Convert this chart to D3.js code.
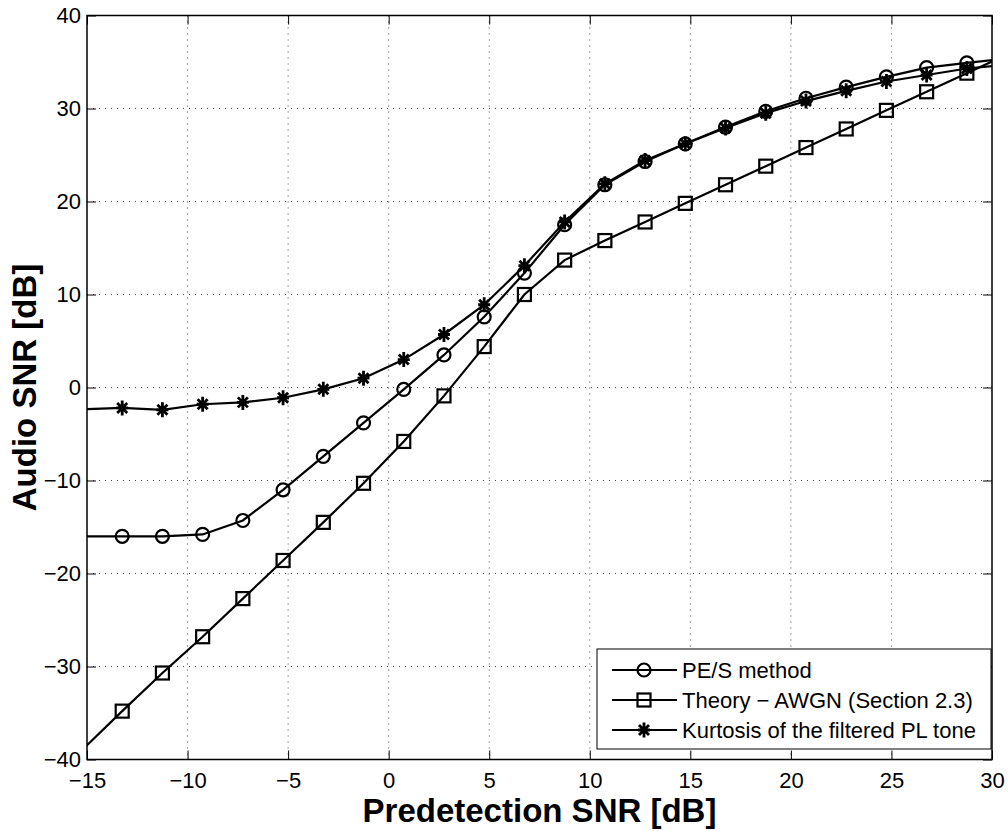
<!DOCTYPE html>
<html>
<head>
<meta charset="utf-8">
<title>Audio SNR vs predetection SNR</title>
<script src="https://cdn.jsdelivr.net/npm/d3@7"></script>
<style>
  body { margin: 0; background: #fff; }
  text { font-family: "Liberation Sans", Arial, sans-serif; }
</style>
</head>
<body>
<script>
// predetection SNR [dB] of the simulated points (first and last lie just outside the axes)
var snrIn = [-15.25, -13.25, -11.25, -9.25, -7.25, -5.25, -3.25, -1.25, 0.75, 2.75, 4.75, 6.75,
             8.75, 10.75, 12.75, 14.75, 16.75, 18.75, 20.75, 22.75, 24.75, 26.75, 28.75, 30.75]

var pesMethod = [-16.0, -16.0, -16.0, -15.8, -14.3, -11.0, -7.4, -3.8, -0.2, 3.5, 7.6, 12.3,
                 17.5, 21.8, 24.3, 26.2, 28.0, 29.7, 31.1, 32.3, 33.4, 34.4, 34.9, 35.4]
var theoryAwgn = [-39.0, -34.8, -30.7, -26.8, -22.7, -18.6, -14.5, -10.3, -5.8, -0.9, 4.4, 10.0,
                  13.7, 15.8, 17.8, 19.8, 21.8, 23.8, 25.8, 27.8, 29.8, 31.8, 33.8, 35.8]
var kurtosis = [-2.35, -2.2, -2.4, -1.8, -1.6, -1.1, -0.2, 1.0, 3.0, 5.7, 8.9, 13.1,
                17.8, 21.9, 24.4, 26.2, 27.9, 29.5, 30.8, 31.9, 32.9, 33.6, 34.3, 34.7]

var seriesNames = ["PE/S method", "Theory \u2212 AWGN (Section 2.3)", "Kurtosis of the filtered PL tone"]
var seriesMarkers = ["circle", "square", "star"]
var seriesValues = [pesMethod, theoryAwgn, kurtosis]

var xTicks = [-15, -10, -5, 0, 5, 10, 15, 20, 25, 30]
var yTicks = [-40, -30, -20, -10, 0, 10, 20, 30, 40]

var width = 1008
var height = 831
var margin = {left: 87, top: 15.5, right: 16, bottom: 71.5}
var innerW = width - margin.left - margin.right
var innerH = height - margin.top - margin.bottom

var svg = d3.select("body").append("svg")
    .attr("width", width)
    .attr("height", height)

var x = d3.scaleLinear().domain([-15, 30]).range([0, innerW])
var y = d3.scaleLinear().domain([-40, 40]).range([innerH, 0])

var g = svg.append("g").attr("transform", "translate(" + margin.left + "," + margin.top + ")")

svg.append("defs").append("clipPath").attr("id", "plotclip")
    .append("rect").attr("width", innerW).attr("height", innerH)

// dotted grid
g.selectAll(".vgrid").data(xTicks.slice(1, -1)).enter().append("line")
    .attr("x1", d => x(d)).attr("x2", d => x(d))
    .attr("y1", 0).attr("y2", innerH)
    .attr("stroke", "#444").attr("stroke-width", 1).attr("stroke-dasharray", "1,5")
g.selectAll(".hgrid").data(yTicks.slice(1, -1)).enter().append("line")
    .attr("x1", 0).attr("x2", innerW)
    .attr("y1", d => y(d)).attr("y2", d => y(d))
    .attr("stroke", "#444").attr("stroke-width", 1).attr("stroke-dasharray", "1,5")

// axes, ticks pointing inward, on all four sides
var tickLen = 9
function styleAxis(sel) {
    sel.select(".domain").remove()
    sel.selectAll(".tick line").attr("stroke", "#000").attr("stroke-width", 1)
    sel.selectAll(".tick text").attr("font-size", 22).attr("fill", "#000")
        .attr("font-family", "'Liberation Sans', Arial, sans-serif")
}
var fmt = d => d < 0 ? "\u2212" + Math.abs(d) : String(d)

g.append("g").attr("transform", "translate(0," + innerH + ")")
    .call(d3.axisBottom(x).tickValues(xTicks).tickFormat(fmt).tickSizeInner(-tickLen).tickSizeOuter(0).tickPadding(13))
    .call(styleAxis)
g.append("g")
    .call(d3.axisTop(x).tickValues(xTicks).tickFormat("").tickSizeInner(-tickLen).tickSizeOuter(0))
    .call(styleAxis)
g.append("g")
    .call(d3.axisLeft(y).tickValues(yTicks).tickFormat(fmt).tickSizeInner(-tickLen).tickSizeOuter(0).tickPadding(6))
    .call(styleAxis)
g.append("g").attr("transform", "translate(" + innerW + ",0)")
    .call(d3.axisRight(y).tickValues(yTicks).tickFormat("").tickSizeInner(-tickLen).tickSizeOuter(0))
    .call(styleAxis)

g.append("rect").attr("width", innerW).attr("height", innerH)
    .attr("fill", "none").attr("stroke", "#000").attr("stroke-width", 1.5)

// marker drawing
function drawMarker(sel, type) {
    if (type == "circle") {
        sel.append("circle").attr("r", 6.5)
            .attr("fill", "none").attr("stroke", "#000").attr("stroke-width", 2.2)
    } else if (type == "square") {
        sel.append("rect").attr("x", -6.5).attr("y", -6.5).attr("width", 13).attr("height", 13)
            .attr("fill", "none").attr("stroke", "#000").attr("stroke-width", 2.2)
    } else {
        sel.append("path")
            .attr("d", "M-6,0H6M0,-7.5V7.5M-5,-5L5,5M-5,5L5,-5")
            .attr("fill", "none").attr("stroke", "#000").attr("stroke-width", 2.8)
    }
}

var line = d3.line().x(d => x(d[0])).y(d => y(d[1]))

seriesValues.forEach(function(vals, i) {
    var pts = snrIn.map((s, k) => [s, vals[k]])
    g.append("path")
        .attr("d", line(pts))
        .attr("clip-path", "url(#plotclip)")
        .attr("fill", "none")
        .attr("stroke", "#000")
        .attr("stroke-width", 2.2)
    g.selectAll(".m" + i)
        .data(pts.filter(p => p[0] >= -15 && p[0] <= 30))
        .enter().append("g")
        .attr("transform", d => "translate(" + x(d[0]) + "," + y(d[1]) + ")")
        .each(function() { drawMarker(d3.select(this), seriesMarkers[i]) })
})

// legend
var lg = svg.append("g").attr("transform", "translate(597,649)")
lg.append("rect").attr("width", 394).attr("height", 100)
    .attr("fill", "#fff").attr("stroke", "#000").attr("stroke-width", 1)
seriesNames.forEach(function(name, i) {
    var row = lg.append("g").attr("transform", "translate(0," + (21 + i * 30) + ")")
    row.append("line").attr("x1", 15).attr("x2", 80)
        .attr("stroke", "#000").attr("stroke-width", 2.2)
    drawMarker(row.append("g").attr("transform", "translate(47,0)"), seriesMarkers[i])
    row.append("text").attr("x", 85).attr("dy", "0.36em")
        .attr("font-size", 22).text(name)
})

// axis labels
svg.append("text")
    .attr("x", margin.left + innerW / 2).attr("y", 822)
    .attr("text-anchor", "middle").attr("font-size", 33).attr("font-weight", "bold")
    .text("Predetection SNR [dB]")
svg.append("text")
    .attr("transform", "translate(36," + (margin.top + innerH / 2) + ") rotate(-90)")
    .attr("text-anchor", "middle").attr("font-size", 33).attr("font-weight", "bold")
    .text("Audio SNR [dB]")
</script>
</body>
</html>
